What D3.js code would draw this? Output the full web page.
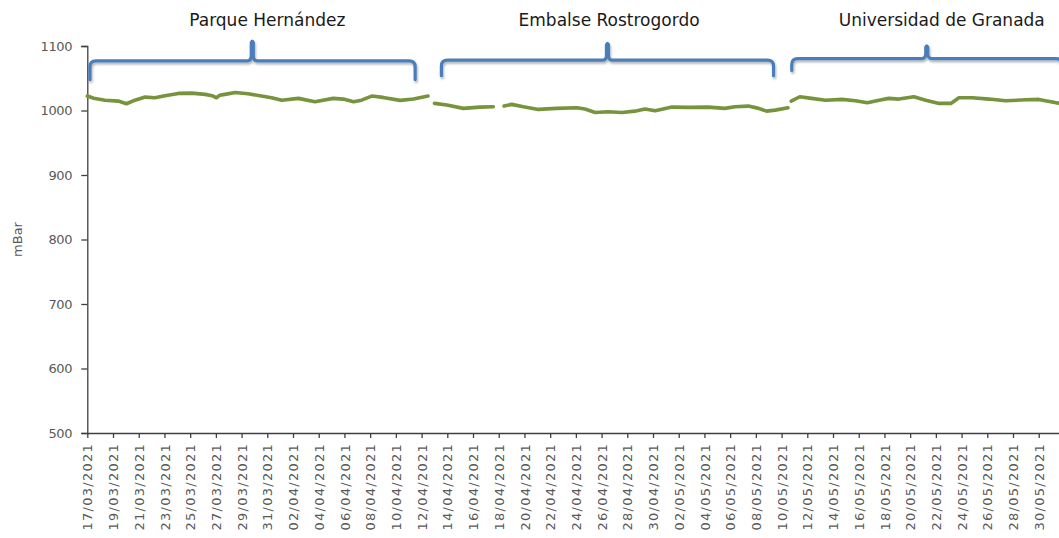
<!DOCTYPE html>
<html>
<head>
<meta charset="utf-8">
<script src="https://cdn.jsdelivr.net/npm/d3@7"></script>
<style>
  html, body { margin: 0; padding: 0; background: #fff; overflow: hidden; }
  svg { display: block; }
</style>
</head>
<body>
<svg id="chart" width="1059" height="538"></svg>
<script>
// ---------------- DATA ----------------
const tickLabels = ["17/03/2021","19/03/2021","21/03/2021","23/03/2021","25/03/2021","27/03/2021","29/03/2021","31/03/2021",
  "02/04/2021","04/04/2021","06/04/2021","08/04/2021","10/04/2021","12/04/2021","14/04/2021","16/04/2021","18/04/2021",
  "20/04/2021","22/04/2021","24/04/2021","26/04/2021","28/04/2021","30/04/2021","02/05/2021","04/05/2021","06/05/2021",
  "08/05/2021","10/05/2021","12/05/2021","14/05/2021","16/05/2021","18/05/2021","20/05/2021","22/05/2021","24/05/2021",
  "26/05/2021","28/05/2021","30/05/2021"];

const yTicks = [500, 600, 700, 800, 900, 1000, 1100];

// Pressure readings (mBar); null marks a gap in the record
const times = [
  "2021-03-17 00:00","2021-03-17 12:00","2021-03-18 09:00","2021-03-19 10:00","2021-03-20 01:00","2021-03-20 17:00",
  "2021-03-21 12:00","2021-03-22 06:00","2021-03-23 01:00","2021-03-24 02:00","2021-03-25 03:00","2021-03-26 04:00",
  "2021-03-26 17:00","2021-03-27 01:00","2021-03-27 07:00","2021-03-27 17:00","2021-03-28 12:00","2021-03-29 12:00",
  "2021-03-30 13:00","2021-03-31 08:00","2021-04-01 03:00","2021-04-02 10:00","2021-04-03 17:00","2021-04-05 03:00",
  "2021-04-05 22:00","2021-04-06 17:00","2021-04-07 08:00","2021-04-08 03:00","2021-04-09 00:00","2021-04-10 08:00",
  "2021-04-11 09:00","2021-04-12 12:00",
  "2021-04-12 18:00",
  "2021-04-13 00:00","2021-04-13 23:00","2021-04-15 06:00","2021-04-16 13:00","2021-04-17 14:00",
  "2021-04-18 00:00",
  "2021-04-18 10:00","2021-04-19 00:00","2021-04-19 22:00","2021-04-21 02:00","2021-04-22 12:00","2021-04-24 02:00",
  "2021-04-24 17:00","2021-04-25 12:00","2021-04-26 12:00","2021-04-27 14:00","2021-04-28 14:00","2021-04-29 09:00",
  "2021-04-30 04:00","2021-04-30 19:00","2021-05-01 11:00","2021-05-02 18:00","2021-05-04 07:00","2021-05-05 14:00",
  "2021-05-06 09:00","2021-05-07 10:00","2021-05-08 05:00","2021-05-08 20:00","2021-05-09 12:00","2021-05-10 12:00",
  "2021-05-10 15:00",
  "2021-05-10 18:00","2021-05-11 10:00","2021-05-12 08:00","2021-05-13 10:00","2021-05-14 17:00","2021-05-15 18:00",
  "2021-05-16 16:00","2021-05-17 14:00","2021-05-18 08:00","2021-05-19 03:00","2021-05-20 07:00","2021-05-21 05:00",
  "2021-05-22 06:00","2021-05-23 04:00","2021-05-23 19:00","2021-05-24 20:00","2021-05-26 03:00","2021-05-27 10:00",
  "2021-05-29 00:00","2021-05-30 00:00","2021-05-31 11:00","2021-06-01 06:00"
];
const pressure = [
  1022.5,1019,1016,1014.6,1010.5,1016,
  1020.8,1019.7,1022.8,1026.5,1027,1025,
  1023,1019.7,1023.5,1025,1028,1026,
  1022.4,1019.7,1016,1018.8,1013.5,1018.8,
  1017.7,1013.5,1016,1022.4,1020.3,1015.7,
  1017.7,1022.4,
  null,
  1011,1008.4,1003.3,1005.3,1005.8,
  null,
  1006.8,1009.5,1005.8,1001.7,1003.3,1004.2,
  1002.2,997,998,997,999,1002.2,
  999.5,1002.2,1005.3,1004.8,1005.3,1003.3,
  1005.8,1006.8,1003.3,999,1000.6,1004.2,
  null,
  1014.6,1021.3,1018.8,1016,1017.2,1015,
  1012,1016,1018.8,1017.7,1021.3,1016,
  1011,1011,1019.7,1019.7,1017.7,1015,
  1016.6,1017.2,1011.5,1012
];

const sites = ["Parque Hernández", "Embalse Rostrogordo", "Universidad de Granada"];
const siteStart = ["2021-03-17 05:00", "2021-04-13 13:00", "2021-05-10 19:00"];
const siteEnd   = ["2021-04-11 12:00", "2021-05-09 09:00", "2021-05-31 19:00"];
const sitePeak  = ["2021-03-29 20:00", "2021-04-26 11:00", "2021-05-21 07:00"];
const siteLabelAt = ["2021-03-31 00:00", "2021-04-26 14:00", "2021-05-22 11:00"];

// ---------------- CHART ----------------
const parseTime = d3.timeParse("%Y-%m-%d %H:%M");
const parseTick = d3.timeParse("%d/%m/%Y");
const svg = d3.select("#chart");

const x = d3.scaleTime()
  .domain([parseTime("2021-03-17 00:00"), parseTime("2021-06-02 00:00")])
  .range([87.3, 87.3 + 77 * 12.857]);
const y = d3.scaleLinear().domain([500, 1100]).range([433, 46]);

const FONT = "'DejaVu Sans', sans-serif";

const defs = svg.append("defs");
const sh = defs.append("filter").attr("id", "shadow")
  .attr("x", "-5%").attr("y", "-50%").attr("width", "110%").attr("height", "200%");
sh.append("feDropShadow").attr("dx", 1).attr("dy", 2).attr("stdDeviation", 1.2)
  .attr("flood-color", "#000").attr("flood-opacity", 0.3);

// Y axis
const yAxis = svg.append("g").attr("transform", "translate(87.3,0)")
  .call(d3.axisLeft(y).tickValues(yTicks).tickSize(6).tickPadding(9).tickFormat(d3.format("d")));
yAxis.select(".domain").attr("stroke", "#404040").attr("stroke-width", 1.3);
yAxis.selectAll(".tick line").attr("stroke", "#404040").attr("stroke-width", 1.3);
yAxis.selectAll(".tick text").attr("fill", "#595959").style("font-family", FONT).style("font-size", "13px")
  .style("letter-spacing", "-0.3px");

// X axis
const xAxis = svg.append("g").attr("transform", "translate(0,433)")
  .call(d3.axisBottom(x).tickValues(tickLabels.map(parseTick)).tickSize(5)
    .tickFormat((d, i) => tickLabels[i]));
xAxis.select(".domain").attr("stroke", "#404040").attr("stroke-width", 1.3).attr("d", "M87.3,0.5H1080");
xAxis.selectAll(".tick line").attr("stroke", "#404040").attr("stroke-width", 1.3);
xAxis.selectAll(".tick text")
  .attr("fill", "#595959").style("font-family", FONT).style("font-size", "13px")
  .style("letter-spacing", "1.25px")
  .attr("text-anchor", "end")
  .attr("transform", "rotate(-90)")
  .attr("x", -10).attr("y", 0).attr("dy", "0.36em");

// Y axis title
svg.append("text")
  .attr("transform", `translate(22,${y(800)}) rotate(-90)`)
  .attr("text-anchor", "middle")
  .attr("fill", "#595959").style("font-family", FONT).style("font-size", "13px")
  .text("mBar");

// Braces
const braceLevels = [[1077, 1048, 1108.5], [1078, 1054, 1105], [1080.5, 1062, 1101]];
sites.forEach((name, i) => {
  const x0 = x(parseTime(siteStart[i])), x1 = x(parseTime(siteEnd[i])), xp = x(parseTime(sitePeak[i]));
  const [hv, ev, tv] = braceLevels[i];
  const yh = y(hv), ye = y(ev), yt = y(tv);
  const r = 6;
  const p = d3.path();
  p.moveTo(x0, ye);
  p.lineTo(x0, yh + r);
  p.quadraticCurveTo(x0, yh, x0 + r, yh);
  p.lineTo(xp - 5, yh);
  p.quadraticCurveTo(xp - 1, yh, xp - 1, yh - 5);
  p.lineTo(xp - 1, yt + 2);
  p.quadraticCurveTo(xp, yt - 1, xp + 1, yt + 2);
  p.lineTo(xp + 1, yh - 5);
  p.quadraticCurveTo(xp + 1, yh, xp + 5, yh);
  p.lineTo(x1 - r, yh);
  p.quadraticCurveTo(x1, yh, x1, yh + r);
  p.lineTo(x1, ye);
  svg.append("path").attr("d", p.toString())
    .attr("fill", "none").attr("stroke", "#4a7ebb").attr("stroke-width", 3.2)
    .attr("stroke-linecap", "round").attr("stroke-linejoin", "round")
    .attr("filter", "url(#shadow)");

  svg.append("text")
    .attr("x", x(parseTime(siteLabelAt[i]))).attr("y", 26)
    .attr("text-anchor", "middle")
    .attr("fill", "#1a1a1a").style("font-family", FONT).style("font-size", "17px")
    .text(name);
});

// Pressure line
const pts = times.map((t, i) => ({ t: parseTime(t), v: pressure[i] }));
const line = d3.line().defined(d => d.v !== null).x(d => x(d.t)).y(d => y(d.v)).curve(d3.curveLinear);
svg.append("path").datum(pts)
  .attr("d", line)
  .attr("fill", "none").attr("stroke", "#77933c").attr("stroke-width", 3.6)
  .attr("stroke-linejoin", "round").attr("stroke-linecap", "round");
</script>
</body>
</html>
